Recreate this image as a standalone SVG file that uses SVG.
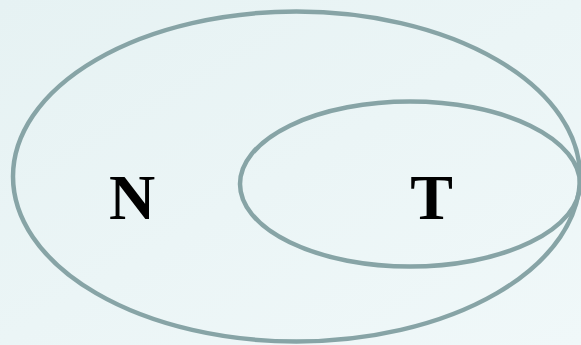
<svg xmlns="http://www.w3.org/2000/svg" width="581" height="345" viewBox="0 0 581 345">
  <defs>
    <linearGradient id="bg" x1="0" y1="0" x2="1" y2="1">
      <stop offset="0" stop-color="#e6f2f3"/>
      <stop offset="1" stop-color="#f0f8f9"/>
    </linearGradient>
    <style>
      .set { fill: none; stroke: #87a4a6; stroke-width: 4.5; }
      .lbl { font-family: "Liberation Serif", "Times New Roman", serif; font-weight: bold; font-size: 64px; fill: #000; text-anchor: middle; }
    </style>
  </defs>
  <rect width="581" height="345" fill="url(#bg)"/>
  <g id="N">
    <ellipse class="set" cx="296.5" cy="176.5" rx="283.5" ry="165"/>
    <text class="lbl" x="132" y="219">N</text>
  </g>
  <g id="T">
    <ellipse class="set" cx="410" cy="184" rx="170" ry="82.5"/>
    <text class="lbl" x="431.5" y="219">T</text>
  </g>
  <g id="connectors"/>
</svg>
